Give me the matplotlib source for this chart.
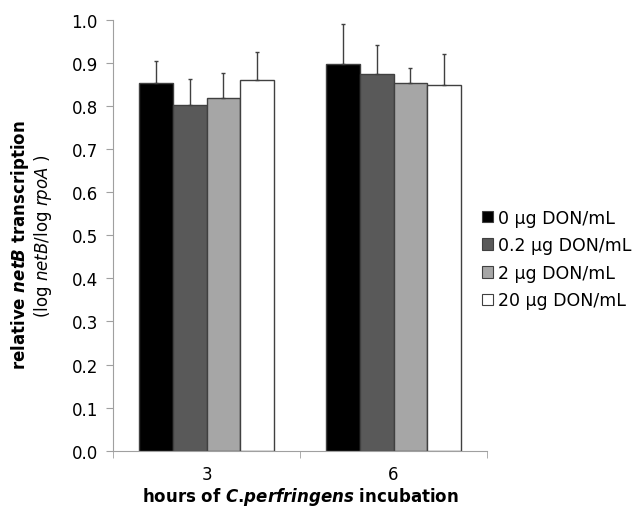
import numpy as np
import matplotlib
matplotlib.use("Agg")
import matplotlib.pyplot as plt
from matplotlib.patches import Patch

# ─── Data ─────────────────────────────────────────────────────────────────────
hours = ["3", "6"]
doses = ["0 µg DON/mL", "0.2 µg DON/mL", "2 µg DON/mL", "20 µg DON/mL"]
means = [
    [0.853, 0.898],   # 0
    [0.803, 0.873],   # 0.2
    [0.818, 0.852],   # 2
    [0.859, 0.849],   # 20
]
errors = [
    [0.051, 0.091],
    [0.059, 0.069],
    [0.059, 0.036],
    [0.065, 0.072],
]

colors = ["#000000", "#595959", "#a6a6a6", "#ffffff"]
edge = "#404040"

# ─── Plot ─────────────────────────────────────────────────────────────────────
fig = plt.figure(figsize=(6.35, 5.1), dpi=100)
ax = fig.add_axes([0.178, 0.1143, 0.589, 0.8451])

x = np.arange(len(hours))
width = 0.18
offsets = (np.arange(len(doses)) - 1.5) * width

for i, dose in enumerate(doses):
    xs = x + offsets[i]
    ax.bar(xs, means[i], width, color=colors[i], edgecolor=edge, linewidth=1.0, zorder=2)
    ax.errorbar(xs, means[i], yerr=[np.zeros(len(hours)), errors[i]], fmt="none",
                ecolor=edge, elinewidth=1.0, capsize=1.6, capthick=1.0, zorder=3)

ax.set_xlim(-0.5, 1.5)
ax.set_ylim(0, 1.0)
ticks = np.arange(0, 1.01, 0.1)
ax.set_yticks(ticks)
ax.set_yticklabels([f"{v:.1f}" for v in ticks], fontsize=12)
ax.set_xticks(x)
ax.set_xticklabels(hours, fontsize=12)
ax.set_xticks([-0.5, 0.5, 1.5], minor=True)
ax.tick_params(axis="x", which="major", length=0, pad=10.5)
ax.tick_params(axis="x", which="minor", length=5, color="#a0a0a0")
ax.tick_params(axis="y", length=5, color="#a0a0a0", pad=6)

for side in ["top", "right"]:
    ax.spines[side].set_visible(False)
for side in ["left", "bottom"]:
    ax.spines[side].set_color("#a0a0a0")

# axis titles
fig.text(0.473, 0.0255, r"hours of $\mathbfit{C}$.$\mathbfit{perfringens}$ incubation",
         ha="center", va="center", fontsize=12, fontweight="bold")
fig.text(0.031, 0.519, r"relative $\mathbfit{netB}$ transcription", rotation=90,
         ha="center", va="center", fontsize=12, fontweight="bold")
fig.text(0.067, 0.536, r"(log $\mathit{netB}$/log $\mathit{rpoA}$ )", rotation=90,
         ha="center", va="center", fontsize=12)

handles = [Patch(facecolor=c, edgecolor=edge, linewidth=0.8) for c in colors]
fig.legend(handles, doses, loc="center left", bbox_to_anchor=(0.759, 0.49),
           frameon=False, fontsize=12.5, handlelength=0.65, handleheight=0.65,
           handletextpad=0.3, labelspacing=0.55, borderpad=0, borderaxespad=0)

plt.savefig("out.png", dpi=100)
